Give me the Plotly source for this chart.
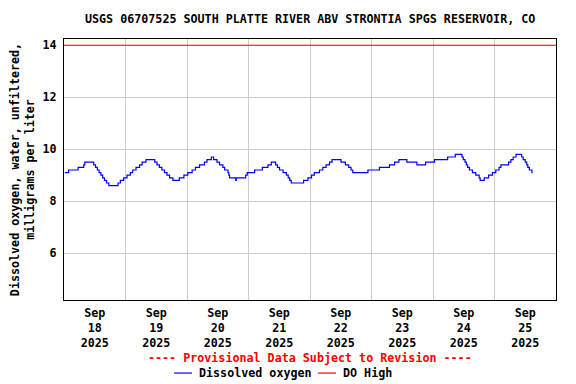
import pandas as pd
import plotly.graph_objects as go

# ---- data ----
# hours after 2025-09-18 00:00 at which the (0.1 mg/L quantised) reading changes
do_hours = [0.3, 1.8, 5.5, 7.7, 8.1, 11.2, 11.6, 12.3, 13.0, 13.7, 14.4, 15.1, 15.8, 16.6, 17.5,
            21.1, 22.0, 23.3, 24.6, 25.9, 26.8, 28.1, 29.5, 30.5, 32.0,
            35.4, 36.3, 37.2, 38.2, 39.2, 40.2, 41.2, 42.5,
            45.0, 46.8, 48.3, 50.0, 51.3, 52.9, 54.8, 55.8, 57.5, 58.4, 59.7, 60.7, 62.0, 62.7,
            64.0, 64.3, 64.6, 67.0, 67.2, 70.9, 71.5, 74.4, 77.4, 79.6, 80.9, 82.6, 83.3, 84.1,
            85.5, 86.8, 87.5, 88.1, 88.7, 93.5, 95.2, 96.6, 97.7, 99.7, 101.0, 102.3, 103.6, 104.6,
            108.1, 109.8, 111.1, 112.0, 112.7, 118.6, 123.1, 127.0, 129.0, 130.7, 133.8, 137.7,
            141.1, 144.6, 149.7, 152.7, 155.3, 155.8, 156.5, 157.0, 157.5, 158.2, 159.4, 160.7,
            162.0, 162.4, 164.0, 165.7, 167.2, 168.5, 169.8, 170.5, 173.5, 174.4, 175.3, 176.4,
            178.6, 179.2, 180.0, 180.6, 181.0, 181.6, 182.6, 182.9]
do_values = [9.1, 9.2, 9.3, 9.4, 9.5, 9.5, 9.4, 9.3, 9.2, 9.1, 9.0, 8.9, 8.8, 8.7, 8.6,
             8.7, 8.8, 8.9, 9.0, 9.1, 9.2, 9.3, 9.4, 9.5, 9.6,
             9.5, 9.4, 9.3, 9.2, 9.1, 9.0, 8.9, 8.8,
             8.9, 9.0, 9.1, 9.2, 9.3, 9.4, 9.5, 9.6, 9.7, 9.6, 9.5, 9.4, 9.3, 9.2,
             9.1, 9.0, 8.9, 8.8, 8.9, 9.0, 9.1, 9.2, 9.3, 9.4, 9.5, 9.4, 9.3, 9.2,
             9.1, 9.0, 8.9, 8.8, 8.7, 8.8, 8.9, 9.0, 9.1, 9.2, 9.3, 9.4, 9.5, 9.6,
             9.5, 9.4, 9.3, 9.2, 9.1, 9.2, 9.3, 9.4, 9.5, 9.6, 9.5, 9.4,
             9.5, 9.6, 9.7, 9.8, 9.7, 9.6, 9.5, 9.4, 9.3, 9.2, 9.1, 9.0,
             8.9, 8.8, 8.9, 9.0, 9.1, 9.2, 9.3, 9.4, 9.5, 9.6, 9.7, 9.8,
             9.7, 9.6, 9.5, 9.4, 9.3, 9.2, 9.1, 9.1]
do_high_times = ["2025-09-18 00:00", "2025-09-26 00:00"]
do_high_values = [14.0, 14.0]

tick_days = ["2025-09-18", "2025-09-19", "2025-09-20", "2025-09-21",
             "2025-09-22", "2025-09-23", "2025-09-24", "2025-09-25"]
tick_labels = ["Sep<br>18<br>2025", "Sep<br>19<br>2025", "Sep<br>20<br>2025", "Sep<br>21<br>2025",
               "Sep<br>22<br>2025", "Sep<br>23<br>2025", "Sep<br>24<br>2025", "Sep<br>25<br>2025"]
y_ticks = [6, 8, 10, 12, 14]

title_text = "USGS 06707525 SOUTH PLATTE RIVER ABV STRONTIA SPGS RESERVOIR, CO"
y_title = "Dissolved oxygen, water, unfiltered,<br>milligrams per liter"

base = pd.Timestamp("2025-09-18 00:00")
do_times = base + pd.to_timedelta(do_hours, unit="h")
tick_vals = [pd.Timestamp(d) + pd.Timedelta(hours=12) for d in tick_days]

FONT = "DejaVu Sans Mono"
FS = 11.7
BOLD = dict(family=FONT, size=FS, color="black", weight="bold")

fig = go.Figure()
fig.add_trace(go.Scatter(x=do_high_times, y=do_high_values, mode="lines", name="DO High",
                         line=dict(color="#ff0000", width=1.2), showlegend=False))
fig.add_trace(go.Scatter(x=do_times, y=do_values, mode="lines", name="Dissolved oxygen",
                         line=dict(color="#0000ff", width=1.2, shape="hv"), showlegend=False))

# the page body has an 8px margin, so the figure is 8px smaller and margins shifted
fig.update_layout(
    width=568, height=376,
    margin=dict(l=56, r=20, t=31, b=84, autoexpand=False),
    paper_bgcolor="white", plot_bgcolor="white",
    font=BOLD,
    showlegend=False,
)
fig.update_xaxes(
    automargin=False,
    range=[base, base + pd.Timedelta(days=8)],
    tickmode="array", tickvals=tick_vals, ticktext=tick_labels,
    showgrid=False, ticks="", zeroline=False, ticklabelstandoff=2,
    showline=True, linecolor="black", linewidth=1, mirror=True,
    minor=dict(tick0="2025-09-18", dtick=86400000, showgrid=True,
               gridcolor="#cccccc", gridwidth=1, ticks=""),
    tickfont=BOLD,
)
fig.update_yaxes(
    automargin=False,
    range=[4.2, 14.24], tickmode="array", tickvals=y_ticks,
    showgrid=True, gridcolor="#cccccc", gridwidth=1, zeroline=False,
    ticks="", showline=True, linecolor="black", linewidth=1, mirror=True,
    ticklabelstandoff=4,
    tickfont=BOLD,
    title=dict(text=y_title, standoff=10, font=BOLD),
)

fig.add_annotation(text=title_text, xref="paper", yref="paper", x=0.5, y=1.077,
                   showarrow=False, xanchor="center", yanchor="middle", font=BOLD)
fig.add_annotation(text="---- Provisional Data Subject to Revision ----",
                   xref="paper", yref="paper", x=0.5, y=-0.222,
                   showarrow=False, xanchor="center", yanchor="middle",
                   font=dict(family=FONT, size=FS, color="#ff0000", weight="bold"))

# custom legend (positions given in screen pixels of the plot area, 64..556)
def px_x(p):
    return (p - 64) / 492.0

ly = -0.280
fig.add_shape(type="line", xref="paper", yref="paper", x0=px_x(174), x1=px_x(192), y0=ly, y1=ly,
              line=dict(color="#0000ff", width=1.2))
fig.add_annotation(text="Dissolved oxygen", xref="paper", yref="paper", x=px_x(197), y=ly,
                   showarrow=False, xanchor="left", yanchor="middle", font=BOLD)
fig.add_shape(type="line", xref="paper", yref="paper", x0=px_x(318), x1=px_x(336), y0=ly, y1=ly,
              line=dict(color="#ff0000", width=1.2))
fig.add_annotation(text="DO High", xref="paper", yref="paper", x=px_x(341), y=ly,
                   showarrow=False, xanchor="left", yanchor="middle", font=BOLD)

fig.write_html("out.html")
